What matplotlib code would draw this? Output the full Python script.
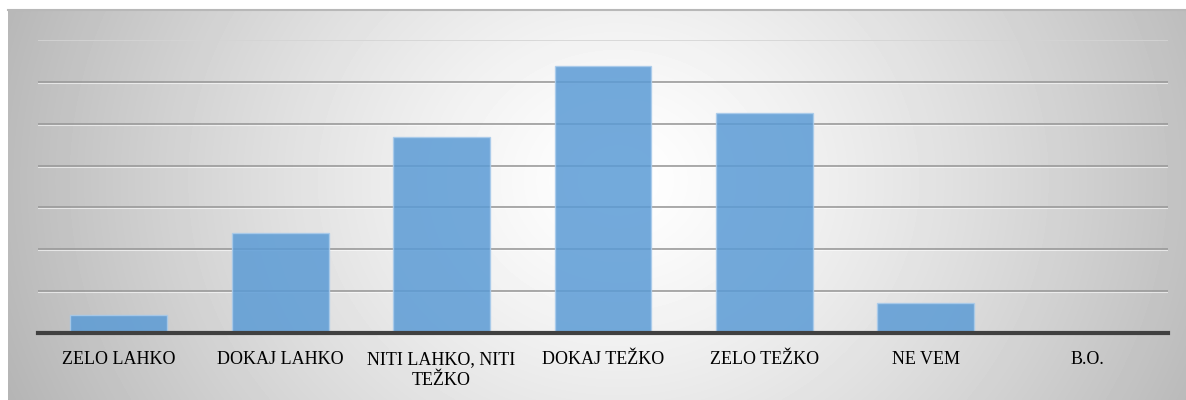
import numpy as np
import matplotlib.pyplot as plt
from matplotlib.lines import Line2D

plt.rcParams['font.family'] = ['Liberation Serif', 'DejaVu Serif']

categories = ['ZELO LAHKO', 'DOKAJ LAHKO', 'NITI LAHKO, NITI\nTEŽKO', 'DOKAJ TEŽKO',
              'ZELO TEŽKO', 'NE VEM', 'B.O.']
values = [2.2, 11.9, 23.4, 31.9, 26.3, 3.6, 0.0]
grid_levels = [5, 10, 15, 20, 25, 30]

W, H = 1186, 400
fig = plt.figure(figsize=(W / 100, H / 100), dpi=100)
fig.patch.set_facecolor('white')

# radial grey-to-white background of the chart area
bg = fig.add_axes([8 / W, 0, (W - 8) / W, 390 / H])
yy, xx = np.mgrid[0:390, 0:W - 8]
r = np.sqrt(((xx - 610) / 600.0) ** 2 + ((yy - 170) / 520.0) ** 2)
shade = np.clip(255 - 66 * r ** 1.3, 150, 255) / 255.0
bg.imshow(shade, cmap='gray', vmin=0, vmax=1, aspect='auto', interpolation='bilinear')
bg.axis('off')
fig.add_artist(Line2D([8 / W, 1], [390 / H, 390 / H], color='#b8b8b8', lw=1.5))

ax = fig.add_axes([38 / W, (H - 333) / H, (1168 - 38) / W, (333 - 40) / H])
ax.set_facecolor('none')
ax.set_xlim(-0.5, len(categories) - 0.5)
ax.set_ylim(0, 35)

for g in grid_levels:
    ax.axhline(g, color='#9a9a9a', lw=1.2, zorder=1)
    ax.axhline(g - 0.12, color='white', lw=0.8, alpha=0.6, zorder=1)
ax.axhline(35, color='#d4d4d4', lw=1.2, zorder=1)

x = np.arange(len(categories))
ax.bar(x, values, width=0.6, color='#5b9bd5', alpha=0.85,
       edgecolor='#a9cbeb', linewidth=1, zorder=2)
ax.axhline(0, color='#404040', lw=3, zorder=3, clip_on=False)

for s in ax.spines.values():
    s.set_visible(False)
ax.set_yticks([])
ax.set_xticks(x)
ax.set_xticklabels(categories, fontfamily='Liberation Serif', fontsize=13, color='black',
                   linespacing=1.3)
ax.tick_params(axis='x', length=0, pad=13)

fig.savefig('out.png', dpi=100)
